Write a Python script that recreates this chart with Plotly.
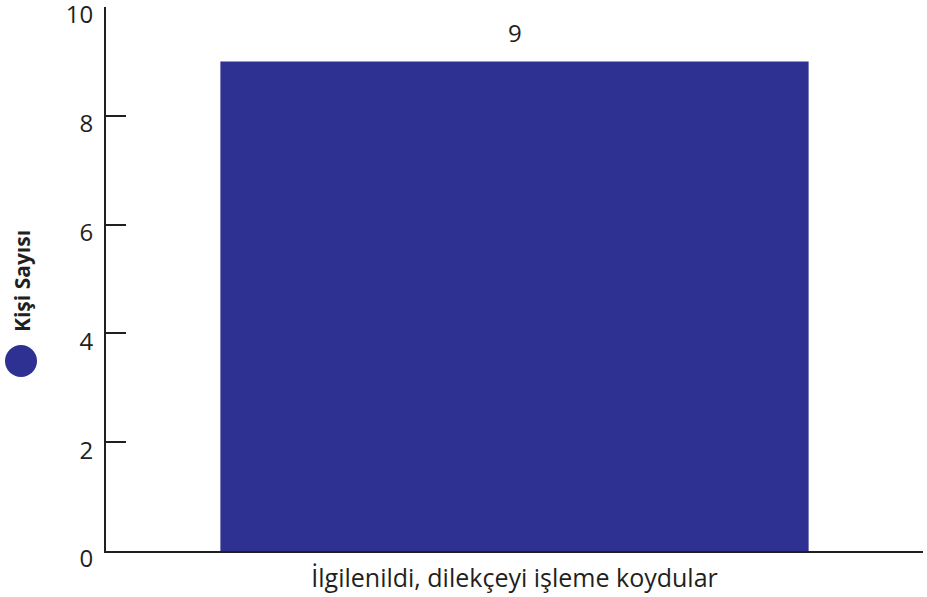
import plotly.graph_objects as go

categories = ["İlgilenildi, dilekçeyi işleme koydular"]
values = [9]
series_name = "Kişi Sayısı"
y_ticks = [0, 2, 4, 6, 8, 10]

BAR = "#2E3192"
INK = "#231F20"
FONT = "Open Sans, Noto Sans, sans-serif"

fig = go.Figure()
fig.add_trace(go.Bar(
    x=categories, y=values, name=series_name,
    marker=dict(color=BAR, line=dict(width=0)),
    width=0.72,
    showlegend=False,
    hoverinfo="skip",
))

for c, v in zip(categories, values):
    fig.add_annotation(x=c, y=v, text=str(v), showarrow=False,
                       yanchor="bottom", yshift=10,
                       font=dict(family=FONT, size=24, color=INK))

W, H = 927, 597
ml, mr, mt, mb = 106, 4, 7, 46
pw = W - ml - mr
ph = H - mt - mb

# y-axis title (rotated) and legend-like circle
fig.add_annotation(text="<b>" + series_name + "</b>", textangle=-90,
                   xref="paper", yref="paper",
                   x=(22 - ml) / pw, y=(H - mb - 281) / ph,
                   xanchor="center", yanchor="middle", showarrow=False,
                   font=dict(family=FONT, size=21, color=INK))
cx = (21 - ml) / pw
cy = (H - mb - 361) / ph
fig.add_shape(type="circle", xref="paper", yref="paper",
              xsizemode="pixel", ysizemode="pixel",
              xanchor=cx, yanchor=cy, x0=-16, x1=16, y0=-16, y1=16,
              fillcolor=BAR, line=dict(width=0))

fig.update_layout(
    width=W, height=H,
    margin=dict(l=ml, r=mr, t=mt, b=mb, autoexpand=False),
    paper_bgcolor="white", plot_bgcolor="white",
    font=dict(family=FONT, color=INK),
    bargap=0.28,
)
fig.update_xaxes(
    showgrid=False, zeroline=False, automargin=False,
    showline=True, linecolor=INK, linewidth=2,
    ticks="", tickfont=dict(family=FONT, size=25, color=INK),
    ticklabelstandoff=4,
    range=[-0.5, 0.5],
)
fig.update_yaxes(
    range=[0, 10], tickvals=y_ticks, showgrid=False, zeroline=False,
    automargin=False,
    showline=True, linecolor=INK, linewidth=2,
    ticks="inside", ticklen=20, tickwidth=2, tickcolor=INK,
    tickfont=dict(family=FONT, size=24, color=INK),
    ticklabelstandoff=6, ticklabelshift=8, ticklabeloverflow="allow",
)

fig.write_html(
    "out.html",
    config={"displayModeBar": False},
    post_script="document.body.style.margin='0';document.body.style.overflow='hidden';",
)
